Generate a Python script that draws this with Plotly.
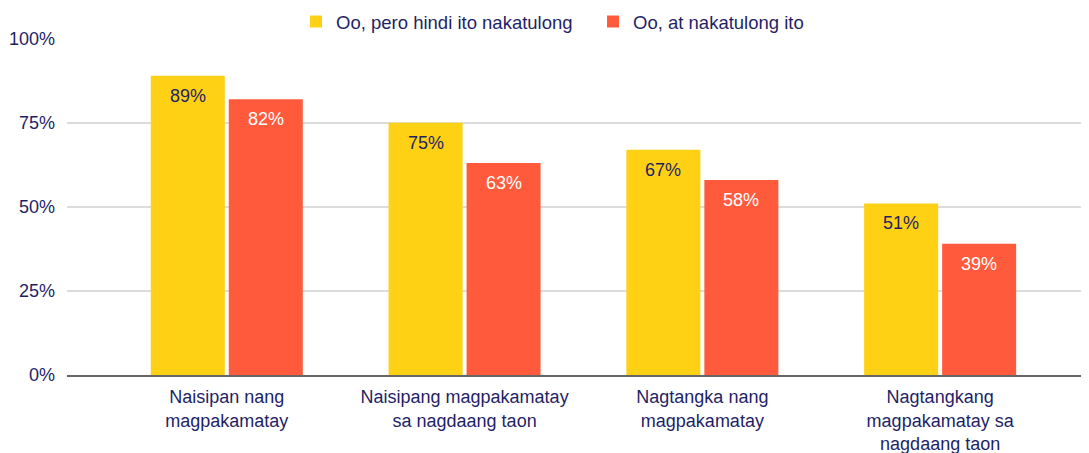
import plotly.graph_objects as go

categories = ["Naisipan nang<br>magpakamatay",
              "Naisipang magpakamatay<br>sa nagdaang taon",
              "Nagtangka nang<br>magpakamatay",
              "Nagtangkang<br>magpakamatay sa<br>nagdaang taon"]
series_names = ["Oo, pero hindi ito nakatulong", "Oo, at nakatulong ito"]
yellow_vals = [0.89, 0.75, 0.67, 0.51]
red_vals = [0.82, 0.63, 0.58, 0.39]
y_ticks = [0, 0.25, 0.5, 0.75, 1.0]

NAVY = "#1f1f66"
YELLOW = "#FFD115"
RED = "#FF5A3C"
FONT = "Liberation Sans, Arial, sans-serif"
FS = 18

fig = go.Figure()
fig.add_trace(go.Bar(x=categories, y=yellow_vals, name=series_names[0],
                     marker=dict(color=YELLOW, line=dict(width=0))))
fig.add_trace(go.Bar(x=categories, y=red_vals, name=series_names[1],
                     marker=dict(color=RED, line=dict(width=0))))

annotations = []
for cat, v in zip(categories, yellow_vals):
    annotations.append(dict(x=cat, y=v, xref="x", yref="y", text=f"{round(v*100)}%",
                            showarrow=False, xshift=-39, yshift=-8, yanchor="top",
                            font=dict(color=NAVY, size=FS, family=FONT)))
for cat, v in zip(categories, red_vals):
    annotations.append(dict(x=cat, y=v, xref="x", yref="y", text=f"{round(v*100)}%",
                            showarrow=False, xshift=39, yshift=-8, yanchor="top",
                            font=dict(color="white", size=FS, family=FONT)))

# page body has an 8px margin, so the figure is offset by (8, 8)
fig.update_layout(
    width=1089, height=453,
    margin=dict(l=59, r=8, t=30, b=86, autoexpand=False),
    paper_bgcolor="white", plot_bgcolor="white",
    font=dict(family=FONT, size=FS, color=NAVY),
    barmode="group", bargap=0.344, bargroupgap=0.051,
    showlegend=True,
    legend=dict(orientation="h", xref="paper", yref="paper",
                x=0.2241, xanchor="left", y=1.0475, yanchor="middle",
                font=dict(size=18.5, color=NAVY, family=FONT),
                entrywidth=252,
                itemsizing="constant", bgcolor="rgba(0,0,0,0)"),
    annotations=annotations,
    xaxis=dict(type="category", range=[-0.672, 3.626], showgrid=False,
               showline=True, linecolor="#666666", linewidth=1.5,
               ticks="", ticklabelstandoff=5,
               tickfont=dict(size=FS, color=NAVY, family=FONT),
               zeroline=False, automargin=False),
    yaxis=dict(range=[0, 1.002], tickvals=y_ticks, tickformat=".0%",
               showgrid=True, gridcolor="#dcdcdc", gridwidth=1.5,
               zeroline=False, showline=False, ticks="",
               ticklabelstandoff=11, automargin=False,
               tickfont=dict(size=FS, color=NAVY, family=FONT)),
)

fig.write_html("out.html")
